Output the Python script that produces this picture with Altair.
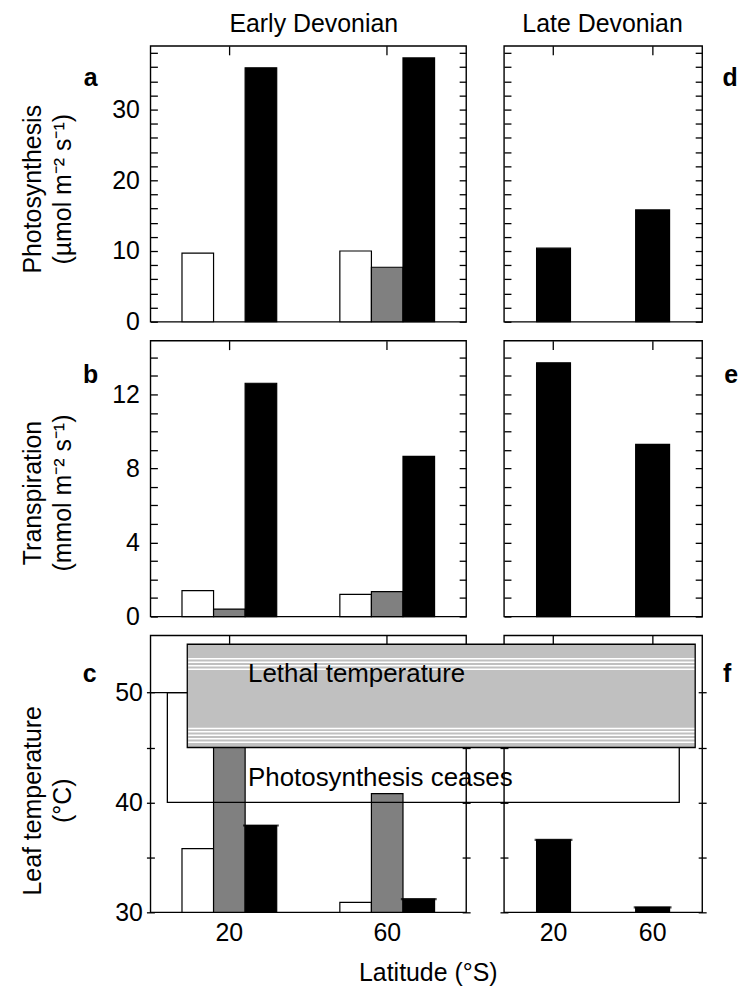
import altair as alt
import pandas as pd

# ---------------- data ----------------
latitudes = ["20", "60"]
series = ["open", "grey", "filled"]
series_colors = ["#ffffff", "#808080", "#000000"]

early_photo_open = [9.7, 10.0]
early_photo_grey = [None, 7.7]
early_photo_filled = [35.9, 37.3]
late_photo_filled = [10.4, 15.8]

early_transp_open = [1.4, 1.2]
early_transp_grey = [0.4, 1.35]
early_transp_filled = [12.6, 8.65]
late_transp_filled = [13.7, 9.3]

early_temp_open = [35.8, 30.9]
early_temp_grey = [52.5, 40.8]
early_temp_filled = [37.9, 31.2]
late_temp_filled = [36.6, 30.45]

photo_ticks = list(range(0, 39, 2))
transp_ticks = list(range(0, 15, 1))
temp_ticks = [30, 35, 40, 45, 50]
photo_domain = [0, 39]
transp_domain = [0, 14.9]
temp_domain = [30, 55.2]

lethal_range = [45.0, 54.4]
ceases_range = [40.0, 50.0]
lethal_stripes = [53.08, 52.76, 52.44, 52.13, 46.74, 46.43, 46.11, 45.79, 45.48]

FONT = "Liberation Sans"
FS = 25


def frame(**cols):
    rows = []
    for s, vals in cols.items():
        for lat, v in zip(latitudes, vals):
            if v is not None:
                rows.append({"lat": lat, "series": s, "value": v})
    return pd.DataFrame(rows)


def txt(label, x, y, size=FS, align="center", baseline="alphabetic", angle=0, bold=False):
    return alt.Chart(pd.DataFrame({"t": [label]})).mark_text(
        font=FONT, fontSize=size, align=align, baseline=baseline, angle=angle,
        fontWeight="bold" if bold else "normal", color="black", clip=False
    ).encode(x=alt.value(x), y=alt.value(y), text="t:N")


def panel(df, width, height, domain, ticks, label_every, early, base,
          left_labels, bottom_labels, tick_in, tick_out, pad, top_tick, extra, caps=False):
    if early:
        xs = alt.Scale(domain=latitudes, paddingInner=0.4, paddingOuter=0.2)
        xo = alt.Scale(domain=series, paddingInner=0, paddingOuter=0)
    else:
        xs = alt.Scale(domain=latitudes, paddingInner=0.658, paddingOuter=0.329)
        xo = alt.Scale(domain=["filled"], paddingInner=0, paddingOuter=0)
    ys = alt.Scale(domain=domain, nice=False, zero=False)
    color = alt.Color("series:N", scale=alt.Scale(domain=series, range=series_colors), legend=None)

    def yaxis(orient, labels):
        kw = dict(orient=orient, values=ticks, tickSize=tick_in + tick_out, offset=-tick_in,
                  domain=False, grid=False, title=None, labels=labels, labelOverlap=False,
                  ticks=True)
        if labels:
            kw["labelExpr"] = f"datum.value % {label_every} === 0 ? datum.label : ''"
            kw["labelPadding"] = pad
        return alt.Axis(**kw)

    top_axis = alt.Axis(orient="top", tickSize=top_tick, offset=-top_tick, labels=False,
                        domain=False, grid=False, title=None, bandPosition=0.5)
    if bottom_labels:
        bottom_axis = alt.Axis(orient="bottom", ticks=False, labels=True, labelPadding=8,
                               labelAngle=0, domain=False, grid=False, title=None,
                               bandPosition=0.5)
    else:
        bottom_axis = None

    def enc(yax, xax, opacity):
        e = dict(
            x=alt.X("lat:N", scale=xs, axis=xax),
            xOffset=alt.XOffset("series:N", scale=xo),
            y=alt.Y("value:Q", scale=ys, axis=yax),
            color=color,
        )
        if base is not None:
            e["y2"] = alt.datum(base)
        return alt.Chart(df).mark_bar(stroke="black", strokeWidth=1.2, opacity=opacity).encode(**e)

    layers = [enc(yaxis("left", left_labels), top_axis, 1), enc(yaxis("right", False), bottom_axis, 0)]
    if caps:
        layers.append(
            alt.Chart(df[df["series"] == "filled"]).mark_tick(
                color="black", thickness=2.2, size=(36 if early else 38), orient="horizontal"
            ).encode(
                x=alt.X("lat:N", scale=xs, axis=None),
                xOffset=alt.XOffset("series:N", scale=xo),
                y=alt.Y("value:Q", scale=ys, axis=None),
            )
        )
    return alt.layer(*layers, *extra).resolve_axis(x="independent", y="independent").properties(
        width=width, height=height)


W_L, W_R = 317, 199
H_A, H_B, H_C = 277, 277, 278

temp_scale = alt.Scale(domain=temp_domain, nice=False, zero=False)

# ---- row a / d ----
pa = panel(frame(open=early_photo_open, grey=early_photo_grey, filled=early_photo_filled),
           W_L, H_A, photo_domain, photo_ticks, 10, True, None, True, False, 7, 0, 11, 9,
           [txt("Early Devonian", 164, -14),
            txt("a", -60, 40, bold=True),
            txt("Photosynthesis", -118, 144, angle=270, baseline="middle"),
            txt("(\u00b5mol m\u207b\u00b2 s\u207b\u00b9)", -88, 144, angle=270, baseline="middle")])
pd_ = panel(frame(filled=late_photo_filled), W_R, H_A, photo_domain, photo_ticks, 10, False, None,
            False, False, 7, 0, 11, 9,
            [txt("Late Devonian", 99, -14),
             txt("d", 227, 40, bold=True)])

# ---- row b / e ----
pb = panel(frame(open=early_transp_open, grey=early_transp_grey, filled=early_transp_filled),
           W_L, H_B, transp_domain, transp_ticks, 4, True, None, True, False, 7, 0, 11, 9,
           [txt("b", -60, 43, bold=True),
            txt("Transpiration", -118, 153, angle=270, baseline="middle"),
            txt("(mmol m\u207b\u00b2 s\u207b\u00b9)", -88, 153, angle=270, baseline="middle")])
pe = panel(frame(filled=late_transp_filled), W_R, H_B, transp_domain, transp_ticks, 4, False, None,
           False, False, 7, 0, 11, 9,
           [txt("e", 228, 43, bold=True)])

# ---- row c / f ----
ceases_box = alt.Chart(pd.DataFrame({"lo": [ceases_range[0]], "hi": [ceases_range[1]]})).mark_rect(
    fillOpacity=0, stroke="black", strokeWidth=1.3, clip=False).encode(
    x=alt.value(-338), x2=alt.value(176),
    y=alt.Y("lo:Q", scale=temp_scale, axis=None), y2="hi:Q")
ceases_lead = alt.Chart(pd.DataFrame({"v": [ceases_range[1]]})).mark_rule(
    color="black", strokeWidth=1.3, clip=False).encode(
    x=alt.value(-355), x2=alt.value(-318), y=alt.Y("v:Q", scale=temp_scale, axis=None))
lethal_box = alt.Chart(pd.DataFrame({"lo": [lethal_range[0]], "hi": [lethal_range[1]]})).mark_rect(
    fill="#c0c0c0", stroke="black", strokeWidth=1.3, clip=False).encode(
    x=alt.value(-318), x2=alt.value(192),
    y=alt.Y("lo:Q", scale=temp_scale, axis=None), y2="hi:Q")
stripes = alt.Chart(pd.DataFrame({"v": lethal_stripes})).mark_rule(
    color="white", strokeWidth=1.5, clip=False).encode(
    x=alt.value(-317), x2=alt.value(191), y=alt.Y("v:Q", scale=temp_scale, axis=None))

pc = panel(frame(open=early_temp_open, grey=early_temp_grey, filled=early_temp_filled),
           W_L, H_C, temp_domain, temp_ticks, 10, True, 30, True, True, 4, 4, 4, 8,
           [txt("c", -61, 47, bold=True),
            txt("Leaf temperature", -118, 166, angle=270, baseline="middle"),
            txt("(\u00b0C)", -88, 166, angle=270, baseline="middle")], caps=True)
pf = panel(frame(filled=late_temp_filled), W_R, H_C, temp_domain, temp_ticks, 10, False, 30,
           False, True, 4, 4, 4, 8,
           [ceases_box, ceases_lead, lethal_box, stripes,
            txt("Lethal temperature", -257, 47, size=26, align="left"),
            txt("Photosynthesis ceases", -257, 151, size=26, align="left"),
            txt("Latitude (\u00b0S)", -76, 347),
            txt("f", 224, 47, bold=True)], caps=True)

res = dict(x="independent", y="independent", xOffset="independent")
chart = alt.concat(pa, pd_, pb, pe, pc, pf, columns=2,
                   spacing={"row": 19, "column": 38}, bounds="flush", align="each"
                   ).resolve_scale(**res).properties(
    padding={"left": 12, "top": 1, "right": 5, "bottom": 5}
).configure_view(stroke="black", strokeWidth=1.4).configure_axis(
    labelFont=FONT, labelFontSize=FS, labelColor="black", tickColor="black", tickWidth=1.3,
    grid=False
)

chart.save("out.html", embed_options={"renderer": "svg", "actions": False})
